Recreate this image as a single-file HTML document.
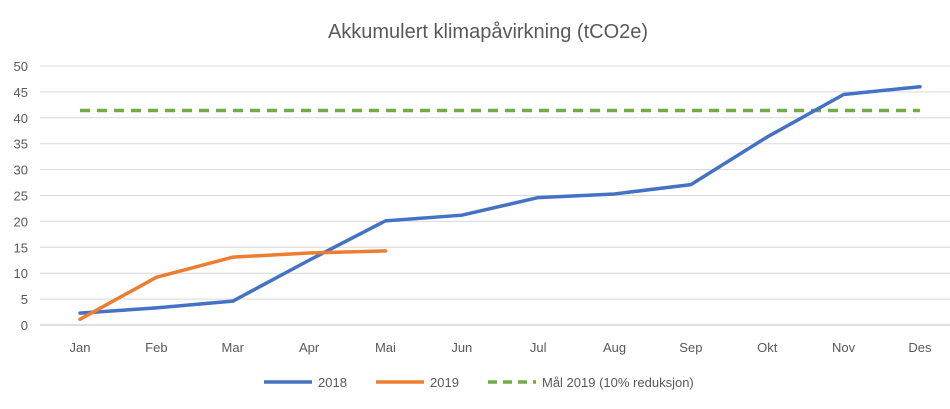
<!DOCTYPE html>
<html><head><meta charset="utf-8"><style>
body{margin:0;background:#fff;width:950px;height:404px;overflow:hidden;font-family:"Liberation Sans",sans-serif;}
</style></head><body>
<svg width="950" height="404" xmlns="http://www.w3.org/2000/svg">
<text x="488" y="38" text-anchor="middle" font-size="20" fill="#595959">Akkumulert klimapåvirkning (tCO2e)</text>
<g id="grid"></g>
<g id="yt"></g>
<g id="xt"></g>
<g id="series"></g>
<g font-size="13" fill="#595959">
<line x1="264" y1="382" x2="312" y2="382" stroke="#4472c4" stroke-width="3.5"/>
<text x="318" y="387">2018</text>
<line x1="376" y1="382" x2="424" y2="382" stroke="#ed7d31" stroke-width="3.5"/>
<text x="430" y="387">2019</text>
<line x1="488" y1="382" x2="536" y2="382" stroke="#70ad47" stroke-width="3.5" stroke-dasharray="9,6"/>
<text x="542" y="387">Mål 2019 (10% reduksjon)</text>
</g>
</svg>
<script>
const categories=["Jan","Feb","Mar","Apr","Mai","Jun","Jul","Aug","Sep","Okt","Nov","Des"];
const series2018=[2.3,3.3,4.6,12.5,20.1,21.2,24.6,25.3,27.1,36.3,44.5,46];
const series2019=[1.1,9.2,13.1,13.9,14.3];
const goal2019=41.4;
const yTicks=[0,5,10,15,20,25,30,35,40,45,50];
const NS="http://www.w3.org/2000/svg";
const x0=80,dx=76.36,yBase=325,yTop=66;
const xs=i=>x0+i*dx;
const ys=v=>yBase-(v/50)*(yBase-yTop);
function mk(tag,attrs,parent){const e=document.createElementNS(NS,tag);for(const k in attrs)e.setAttribute(k,attrs[k]);parent.appendChild(e);return e;}
const grid=document.getElementById('grid'),yt=document.getElementById('yt'),xt=document.getElementById('xt'),ser=document.getElementById('series');
yTicks.forEach(v=>{
 const l=mk('line',{x1:40,x2:950,y1:ys(v),y2:ys(v),stroke:v===0?'#bfbfbf':'#d9d9d9','stroke-width':1},grid);
 
 
 const t=mk('text',{x:28,y:ys(v)+5,'text-anchor':'end','font-size':13,fill:'#595959'},yt);
 t.textContent=v;
 
 
});
categories.forEach((c,i)=>{
 const t=mk('text',{x:xs(i),y:352,'text-anchor':'middle','font-size':13,fill:'#595959'},xt);
 t.textContent=c;
 
 
});
const g=mk('line',{x1:xs(0),x2:xs(categories.length-1),y1:ys(goal2019),y2:ys(goal2019),stroke:'#70ad47','stroke-width':3.5,'stroke-dasharray':'10,7'},ser);


function line(arr,color,name){
 const p=mk('polyline',{points:arr.map((v,i)=>xs(i)+','+ys(v)).join(' '),fill:'none',stroke:color,'stroke-width':3.5,'stroke-linejoin':'round','stroke-linecap':'round'},ser);
 
 
}
line(series2018,'#4472c4','line-2018');
line(series2019,'#ed7d31','line-2019');
</script>
</body></html>
